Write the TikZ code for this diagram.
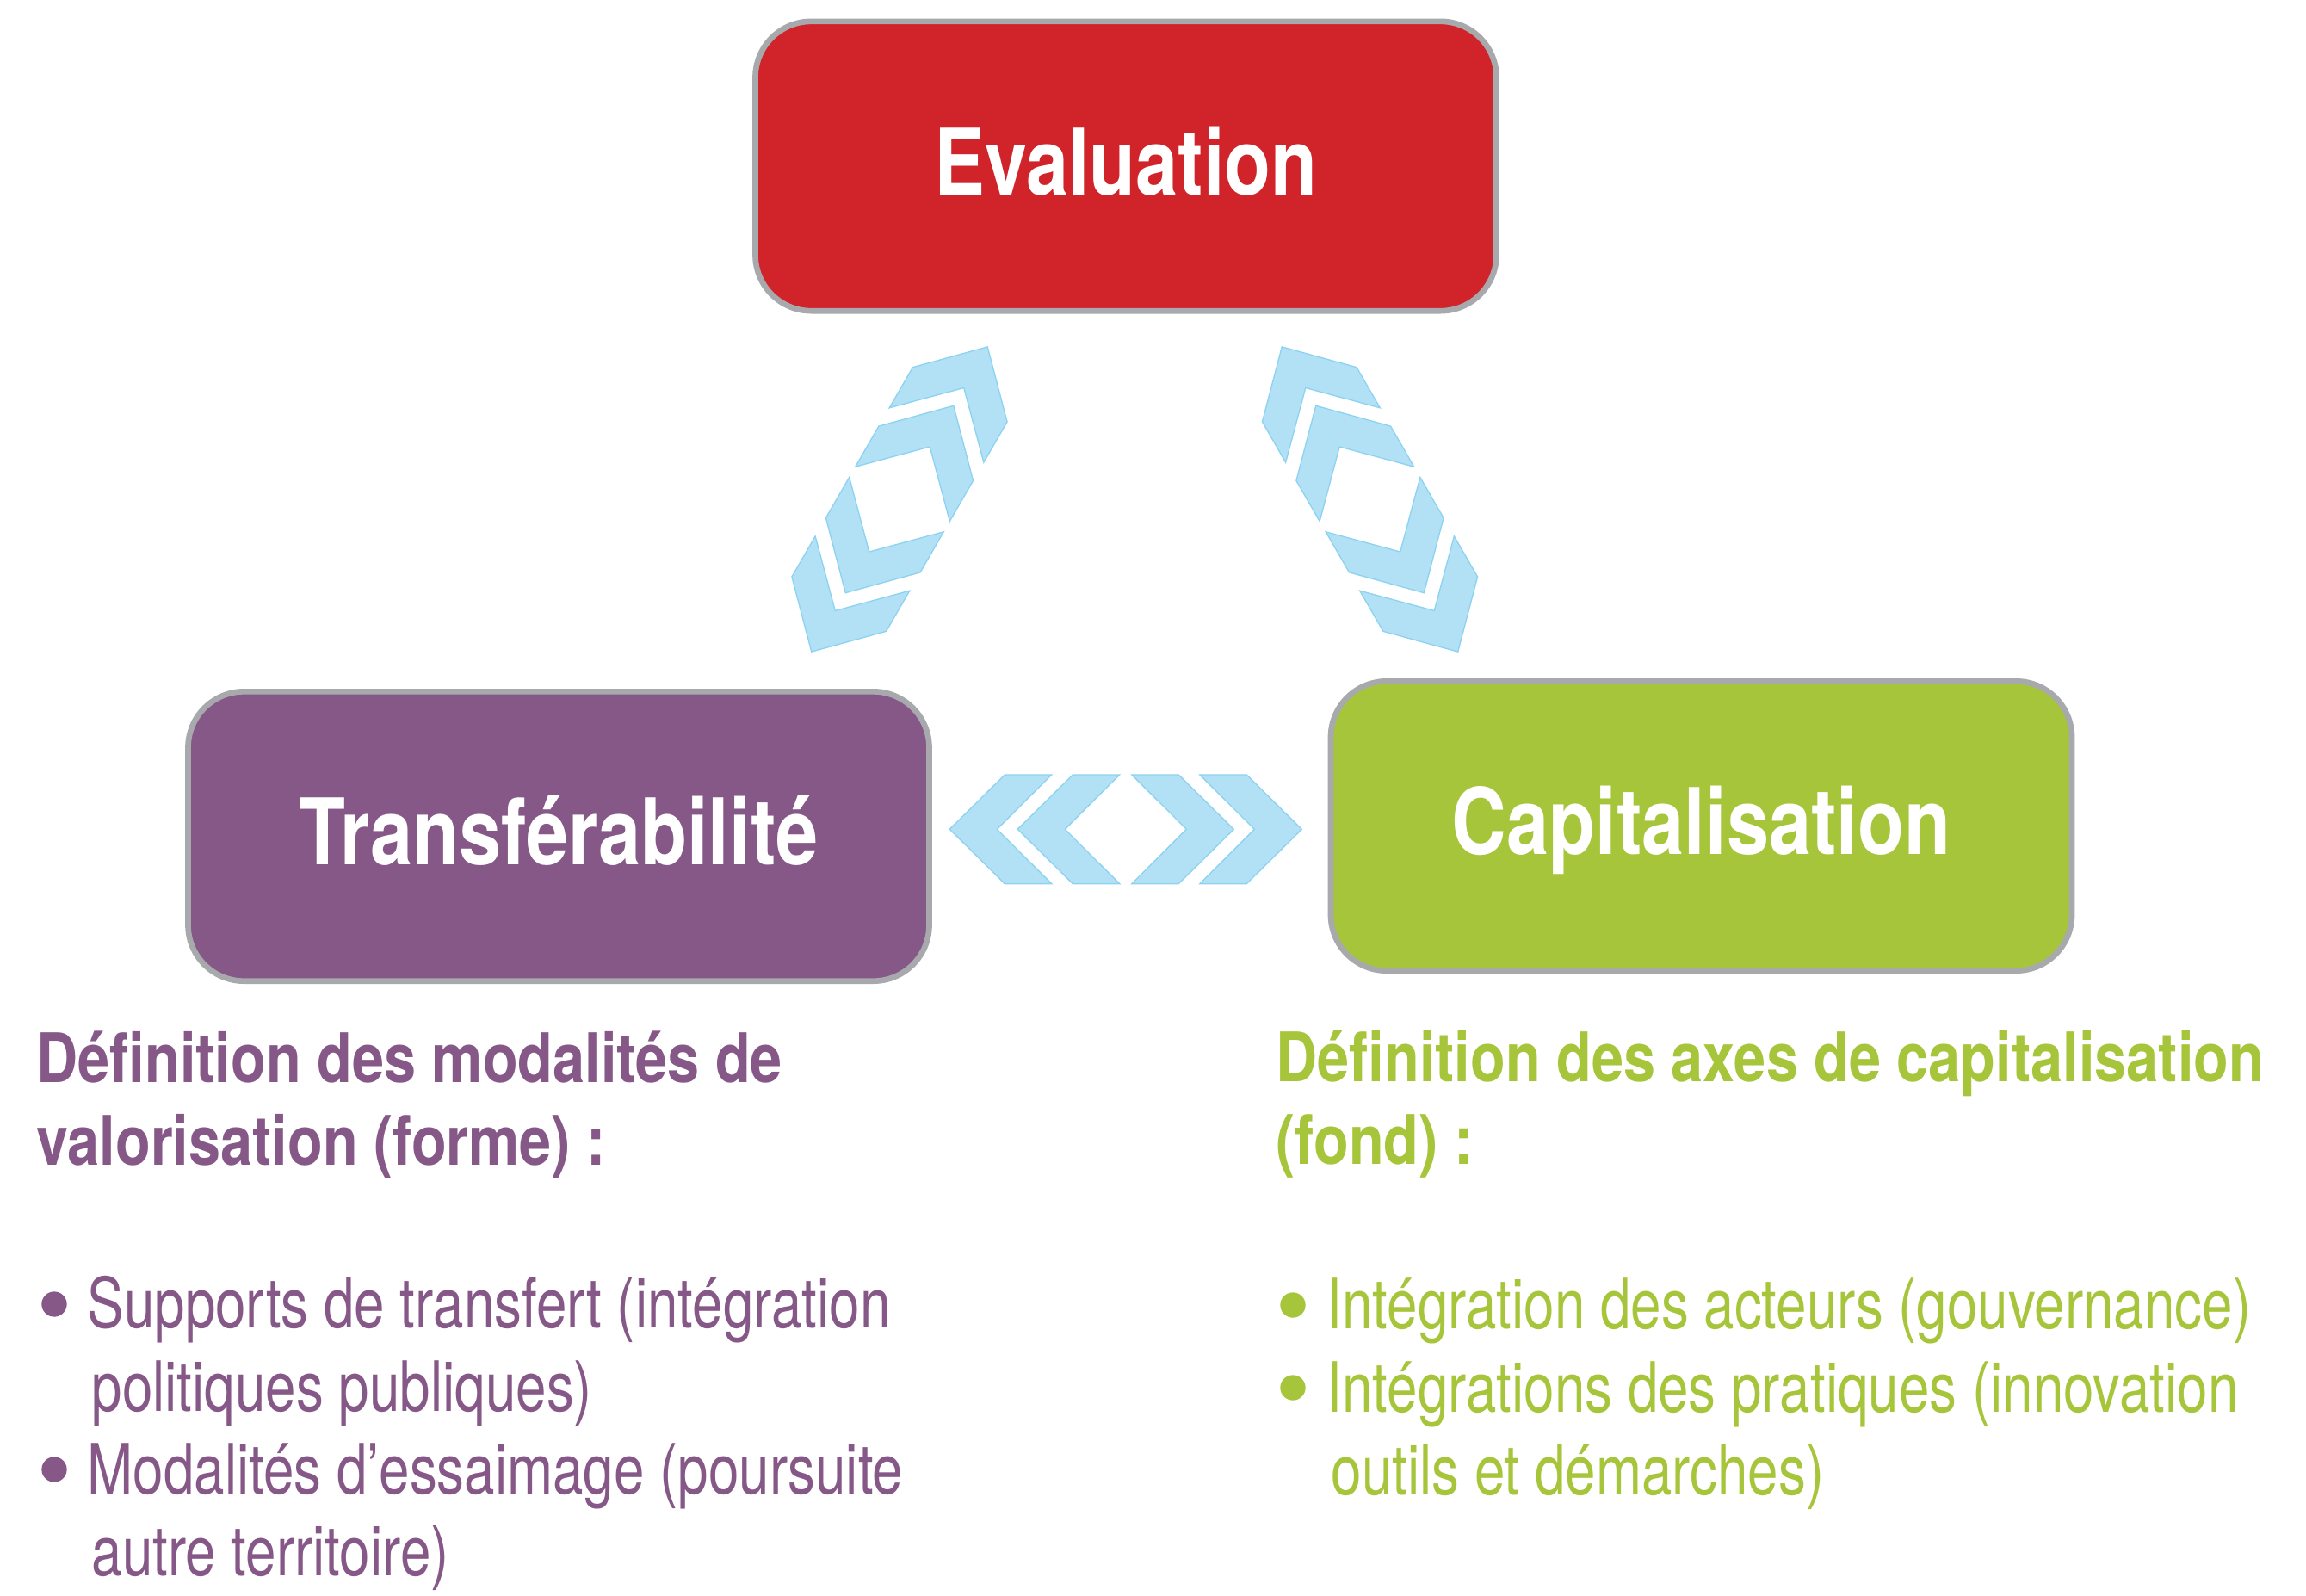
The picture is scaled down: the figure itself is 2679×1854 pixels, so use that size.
\documentclass[tikz,border=0pt]{standalone}
\usepackage{fontspec}
\setmainfont{TeX Gyre Heros}
\newfontfamily\boxfont[FakeStretch=0.828]{TeX Gyre Heros}
\newfontfamily\headfont[FakeStretch=0.84]{TeX Gyre Heros}
\newfontfamily\bodyfont[FakeStretch=0.79]{TeX Gyre Heros}
\definecolor{evalred}{HTML}{D0232A}
\definecolor{transpurple}{HTML}{865888}
\definecolor{capgreen}{HTML}{A7C53A}
\definecolor{boxgray}{HTML}{A7A9AC}
\definecolor{chevfill}{HTML}{B2E1F6}
\definecolor{chevline}{HTML}{8DD3F1}
\begin{document}
\begin{tikzpicture}[x=0.3pt,y=-0.3pt,
  mainbox/.style={rectangle, rounded corners=19.5pt, draw=boxgray, line width=2pt,
    minimum width=258.3pt, minimum height=100.9pt, inner sep=0pt, text=white,
    font=\boxfont\bfseries\fontsize{32}{38}\selectfont, text height=19.8pt, text depth=0pt},
  headtext/.style={anchor=base west, inner sep=0pt, font=\headfont\bfseries\fontsize{23.8}{28.8}\selectfont},
  bodytext/.style={anchor=base west, inner sep=0pt, font=\bodyfont\fontsize{24.2}{28.8}\selectfont},
  bulletdot/.style={circle, inner sep=0pt, minimum size=8.8pt},
  chevshape/.style={fill=chevfill, draw=chevline, line width=0.4pt, line join=miter},
  chevgroup/.pic={
    \foreach \t in {204.5,125.5}{
      \path[chevshape] (\t,0) -- ++(-64,-63.3) -- ++(-54.4,0) -- ++(63.4,63.3) -- ++(-63.4,63.3) -- ++(54.4,0) -- cycle;
      \path[chevshape] (-\t,0) -- ++(64,-63.3) -- ++(54.4,0) -- ++(-63.4,63.3) -- ++(63.4,63.3) -- ++(-54.4,0) -- cycle;
    }
  }
]
\fill[white] (0,0) rectangle (2679,1854);
\useasboundingbox (0,0) rectangle (2679,1854);

% main boxes
\node[mainbox, fill=evalred] (eval) at (1308,193) {Evaluation};
\node[mainbox, fill=transpurple] (transf) at (649,971.5) {Transférabilité};
\node[mainbox, fill=capgreen] (capit) at (1976.5,959.5) {Capitalisation};

% chevron connectors
\pic at (1307.8,963.3) {chevgroup};
\pic[rotate=60] at (1045,580) {chevgroup};
\pic[rotate=-60] at (1591.5,580) {chevgroup};

% left column
\begin{scope}[text=transpurple]
\node[headtext] (lh1) at (42,1257) {Définition des modalités de};
\node[headtext] (lh2) at (42,1353) {valorisation (forme) :};
\node[bulletdot, fill=transpurple] (lb1) at (63,1515) {};
\node[bulletdot, fill=transpurple] (lb2) at (63,1707) {};
\node[bodytext] (lt1) at (101,1542) {Supports de transfert (intégration};
\node[bodytext] (lt2) at (106,1639) {politiques publiques)};
\node[bodytext] (lt3) at (101,1735) {Modalités d’essaimage (poursuite};
\node[bodytext] (lt4) at (106,1830) {autre territoire)};
\end{scope}

% right column
\begin{scope}[text=capgreen]
\node[headtext] (rh1) at (1482,1256) {Définition des axes de capitalisation};
\node[headtext] (rh2) at (1482,1352) {(fond) :};
\node[bulletdot, fill=capgreen] (rb1) at (1502,1516) {};
\node[bulletdot, fill=capgreen] (rb2) at (1502,1612) {};
\node[bodytext] (rt1) at (1541,1543) {Intégration des acteurs (gouvernance)};
\node[bodytext] (rt2) at (1541,1640) {Intégrations des pratiques (innovation};
\node[bodytext] (rt3) at (1546,1736) {outils et démarches)};
\end{scope}
\end{tikzpicture}
\end{document}
